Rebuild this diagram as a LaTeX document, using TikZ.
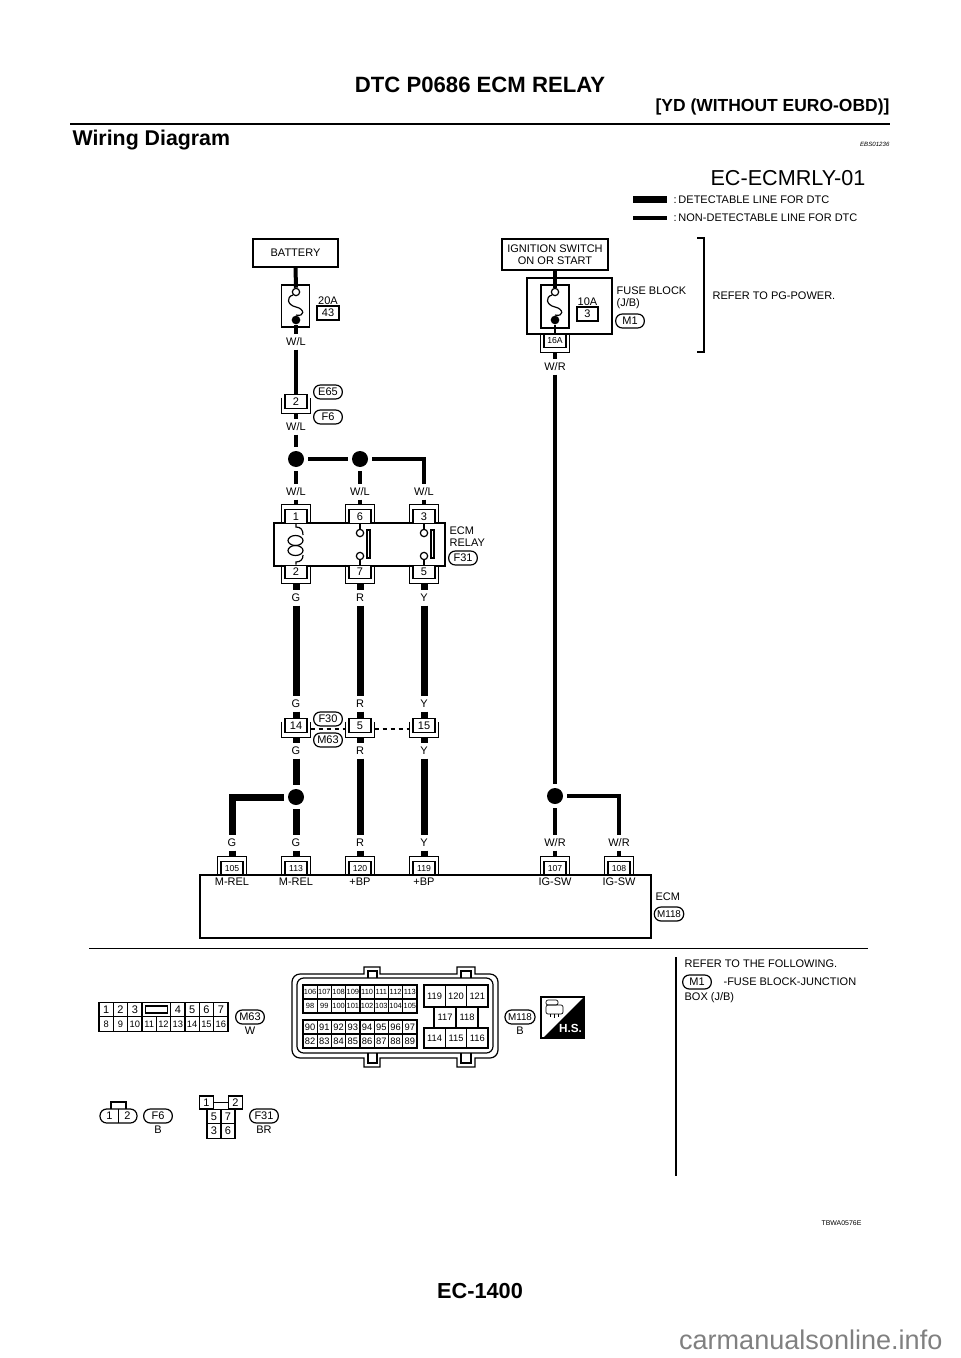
\documentclass[tikz,border=0pt]{standalone}
\usepackage{fontspec}
\setmainfont{Liberation Sans}
\usepackage{tikz}
\usetikzlibrary{positioning}

\newcommand{\fsz}[1]{\fontsize{#1}{9}\selectfont}

\tikzset{
    box/.style={draw, minimum width=#1},
    wirea/.style={line width=5.25pt},
    wireb/.style={line width=3pt},
    dot/.style={circle, fill=black, minimum size=12pt, outer sep=3pt},
    opn/.style={circle, draw, fill=white, minimum size=5.5pt},
    fil/.style={circle, fill=black, minimum size=6.5pt},
    lab/.style={minimum height=10.5pt},
    pill/.style={draw, rounded corners=5pt, minimum width=#1, minimum height=10.5pt},
    pill/.default=21.5pt,
    pin/.style={draw, fill=white, minimum width=16.5pt, minimum height=10pt},
    pina/.style={pin, append after command={\pgfextra{\draw ([xshift=-2.25pt]\tikzlastnode.south west) |- ([yshift=3.4pt]\tikzlastnode.north) -| ([xshift=2.25pt]\tikzlastnode.south east);}}},
    pinb/.style={pin, append after command={\pgfextra{\draw ([xshift=-2.25pt,yshift=-#1]\tikzlastnode.north west) |- ([yshift=-3.4pt]\tikzlastnode.south) -| ([xshift=2.25pt,yshift=-#1]\tikzlastnode.north east);}}},
    pinb/.default=2.5pt,
    tobrk/.style={shorten >=3.4pt},
    frombrk/.style={shorten <=3.4pt},
    cell/.style 2 args={draw, minimum width=#1, minimum height=#2},
    pics/fusesym/.style={code={
        \node[opn] (-t) at (0,0) {};
        \node[fil] (-b) at (0,28) {};
        \draw (-t.south west) .. controls (-10,5) and (-9,13) .. (0,15) .. controls (9,17) and (9,25) .. (-b.north);
    }},
}

\begin{document}
\begin{tikzpicture}[x=0.75pt, y=-0.75pt, line width=.9pt, every node/.style={inner sep=0pt, font=\fsz{8.25}}]

    \useasboundingbox (0,0) rectangle (960,1358);

    \node[font=\bfseries\fsz{16.6}] (title) at (480,85) {DTC P0686 ECM RELAY};
    \node[font=\bfseries\fsz{13.1}, anchor=east] (sect) at (890,107) {[YD (WITHOUT EURO-OBD)]};
    \coordinate (rl) at (70,124);
    \coordinate (rr) at (890,124);
    \draw[line width=2.2pt] (rl) -- (rr);
    \node[font=\bfseries\fsz{16}, anchor=west] (head) at (72,140.5) {Wiring Diagram};
    \node[font=\itshape\fsz{4.6}, anchor=east] (ref) at (890,144) {EBS01236};
    \node[font=\fsz{16.2}, anchor=east] (code) at (866,178) {EC-ECMRLY-01};

    \coordinate (la) at (633,200);
    \coordinate (lb) at (633,218);
    \node[anchor=west] (ta) at (673,200) {:\,DETECTABLE LINE FOR DTC};
    \node[anchor=west] (tb) at (673,218) {:\,NON-DETECTABLE LINE FOR DTC};
    \draw[wirea, shorten >=4.5pt] (la) -- (ta.west);
    \draw[wireb, shorten >=4.5pt] (lb) -- (tb.west);

    \node[box=63.75pt, minimum height=21pt] (bat) at (295.5,253) {BATTERY};
    \node[box=21.5pt, minimum height=31.5pt] (fa) at (295.5,306) {};
    \pic (fua) at (296,292) {fusesym};
    \node[draw, minimum width=16.5pt, minimum height=10.5pt] (n43) at (328,313) {43};
    \node[above=.5pt of n43] (a20) {20A};
    \node[lab] (wl1) at (296,342) {W/L};
    \node[pinb] (p2) at (296,401.5) {2};
    \node[pill] (e65) at (328,392) {E65};
    \node[pill] (f6) at (328,417) {F6};
    \node[lab] (wl2) at (296,427) {W/L};
    \node[dot] (d1) at (296,459) {};
    \node[dot] (d2) at (360,459) {};

    \draw[wireb] (bat.south) -- (fua-t.north);
    \draw[wireb] (fua-b.south) -- (wl1.north);
    \draw[wireb] (wl1.south) -- (p2.north);
    \draw[wireb, frombrk] (p2.south) -- (wl2.north);
    \draw[wireb] (wl2.south) -- (d1.north);
    \draw[wireb] (d1.east) -- (d2.west);

    \node[draw, minimum width=128.25pt, minimum height=32.25pt] (relay) at (359.5,544.5) {};
    \node[anchor=west, align=left] (rtxt) at (449,536.5) {ECM\\RELAY};
    \node[pill] (f31) at (463,558) {F31};

    \foreach \nm/\xx/\pa/\pb/\pc/\pd/\wc/\sg in {g/296/1/2/14/113/G/M-REL, r/360/6/7/5/120/R/+BP, y/424/3/5/15/119/Y/+BP} {
        \node[lab] (\nm a) at (\xx,492) {W/L};
        \node[pina] (\nm b) at (\xx,516.5) {\pa};
        \node[pinb=0pt] (\nm c) at (\xx,572) {\pb};
        \node[lab] (\nm d) at (\xx,598) {\wc};
        \node[lab] (\nm e) at (\xx,704) {\wc};
        \node[pinb] (\nm f) at (\xx,725.5) {\pc};
        \node[lab] (\nm g) at (\xx,751) {\wc};
        \node[lab] (\nm h) at (\xx,843) {\wc};
        \node[pina, font=\fsz{6.5}] (\nm i) at (\xx,868.5) {\pd};
        \node (\nm j) at (\xx,882) {\sg};
        \draw[wireb, tobrk] (\nm a.south) -- (\nm b.north);
        \draw[wirea, frombrk] (\nm c.south) -- (\nm d.north);
        \draw[wirea] (\nm d.south) -- (\nm e.north);
        \draw[wirea] (\nm e.south) -- (\nm f.north);
        \draw[wirea, frombrk] (\nm f.south) -- (\nm g.north);
        \draw[wirea, tobrk] (\nm h.south) -- (\nm i.north);
    }

    \foreach \xx/\nm in {360/r, 424/y} {
        \node[opn] (\nm k) at (\xx,533) {};
        \node[opn] (\nm l) at (\xx,556) {};
        \draw (\nm b.south) -- (\nm k.north);
        \draw (\nm l.south) -- (\nm c.north);
        \draw ({\xx+7},530) rectangle ({\xx+10},558);
    }

    \draw (gb.south) -- (296,527) .. controls (301,527) and (303,530) .. (303,535);
    \draw (gc.north) -- (296,562) .. controls (301,562) and (303,559) .. (303,555);
    \draw (295.5,540.5) ellipse [x radius=7.5, y radius=5];
    \draw (295.5,550.5) ellipse [x radius=7.5, y radius=5];

    \draw[wireb] (d2.east) -| (ya.north);
    \draw[wireb] (d1.south) -- (ga.north);
    \draw[wireb] (d2.south) -- (ra.north);

    \node[pill] (f30) at (328,719) {F30};
    \node[pill] (m63a) at (328,740) {M63};
    \draw[dash pattern=on 3.5pt off 2.5pt, line width=.8pt] ([xshift=2.25pt,yshift=-2.6pt]gf.east) -- ([xshift=-2.25pt,yshift=-2.6pt]rf.west);
    \draw[dash pattern=on 3.5pt off 2.5pt, line width=.8pt] ([xshift=2.25pt,yshift=-2.6pt]rf.east) -- ([xshift=-2.25pt,yshift=-2.6pt]yf.west);

    \node[dot] (d3) at (296,797) {};
    \draw[wirea] (gg.south) -- (d3.north);
    \draw[wirea] (d3.south) -- (gh.north);
    \draw[wirea] (rg.south) -- (rh.north);
    \draw[wirea] (yg.south) -- (yh.north);

    \node[lab] (gm) at (232,843) {G};
    \node[pina, font=\fsz{6.5}] (p105) at (232,868.5) {105};
    \node (mrel) at (232,882) {M-REL};
    \draw[wirea] (d3.west) -| (gm.north);
    \draw[wirea, tobrk] (gm.south) -- (p105.north);

    \node[box=79.5pt, minimum height=23.25pt, align=center] (ign) at (555,254.5) {IGNITION SWITCH\\ON OR START};
    \node[box=63.75pt, minimum height=42pt] (fb) at (569.5,306) {};
    \node[box=21pt, minimum height=32.25pt] (fc) at (555,306.5) {};
    \pic (fub) at (555,292) {fusesym};
    \node[draw, minimum width=15.75pt, minimum height=10.5pt] (n3) at (587.5,314) {3};
    \node[above=.5pt of n3] (a10) {10A};
    \node[anchor=west, align=left] (fbt) at (616,298) {FUSE BLOCK\\(J/B)};
    \node[pill] (m1) at (630,321) {M1};
    \node[pinb=0pt, font=\fsz{6.5}] (p16) at (555,341) {16A};
    \node[lab] (wr1) at (555,367) {W/R};
    \node[dot] (d4) at (555,796) {};
    \node[lab] (wr2) at (555,843) {W/R};
    \node[lab] (wr3) at (619,843) {W/R};
    \node[pina, font=\fsz{6.5}] (p107) at (555,868.5) {107};
    \node[pina, font=\fsz{6.5}] (p108) at (619,868.5) {108};
    \node (ig1) at (555,882) {IG-SW};
    \node (ig2) at (619,882) {IG-SW};

    \draw[wireb] (ign.south) -- (fub-t.north);
    \draw[line width=1.5pt] (fub-b.south) -- (p16.north);
    \draw[wireb, frombrk] (p16.south) -- (wr1.north);
    \draw[wireb] (wr1.south) -- (d4.north);
    \draw[wireb] (d4.south) -- (wr2.north);
    \draw[wireb] (d4.east) -| (wr3.north);
    \draw[wireb, tobrk] (wr2.south) -- (p107.north);
    \draw[wireb, tobrk] (wr3.south) -- (p108.north);

    \draw (697,238) -- (704,238) -- (704,352) -- (697,352);
    \node[anchor=west] (pgp) at (712,296) {REFER TO PG-POWER.};

    \draw (200,875) rectangle (651,938);
    \node[anchor=west] (ecmt) at (655,897) {ECM};
    \node[pill=22pt, font=\fsz{7.4}] (m118) at (669,914) {M118};

    \draw (89,948.5) -- (868,948.5);
    \draw[line width=1.2pt] (676,957) -- (676,1176);

    \foreach \nm [count=\i] in {1,2,3} {
        \node[cell={10.75pt}{10.9pt}] (m-\nm) at ({99+14.33*(\i-.5)},1009.5) {\nm};
    }
    \foreach \nm [count=\i from 6] in {4,5,6,7} {
        \node[cell={10.75pt}{10.9pt}] (m-\nm) at ({99+14.33*(\i-.5)},1009.5) {\nm};
    }
    \node[cell={21.5pt}{10.9pt}] (m-s) at (156.3,1009.5) {};
    \node[cell={16.5pt}{5.25pt}] (m-t) at (156.3,1009.5) {};
    \foreach \nm [count=\i] in {8,9,10,11,12,13,14,15,16} {
        \node[cell={10.75pt}{10.9pt}, font=\fsz{7}] (m-\nm) at ({99+14.33*(\i-.5)},1024) {\nm};
    }
    \node[pill] (m63b) at (250,1017) {M63};
    \node[below=1.5pt of m63b] (m63c) {W};

    \draw[rounded corners=6pt] (292,1016) -- (292,974) [sharp corners] -- (364,974) -- (364,967) -- (380,967) -- (380,974) -- (457,974) -- (457,967) -- (475,967) -- (475,974) [rounded corners=6pt] -- (498,974) -- (498,1058) [sharp corners] -- (475,1058) -- (475,1067) -- (457,1067) -- (457,1058) -- (380,1058) -- (380,1067) -- (364,1067) -- (364,1058) [rounded corners=6pt] -- (292,1058) -- cycle;
    \draw[rounded corners=5pt] (297,978) rectangle (493,1053);
    \draw (368,978) |- (377,971) -- (377,978);
    \draw (461,978) |- (471,971) -- (471,978);
    \draw (368,1053) |- (377,1063) -- (377,1053);
    \draw (461,1053) |- (471,1063) -- (471,1053);

    \foreach \nm [count=\i] in {106,107,...,113} {
        \node[cell={10.7pt}{10.5pt}, font=\fsz{5.6}] (e-\nm) at ({303+14.25*(\i-.5)},992) {\nm};
    }
    \foreach \nm [count=\i] in {98,99,...,105} {
        \node[cell={10.7pt}{10.5pt}, font=\fsz{5.6}] (e-\nm) at ({303+14.25*(\i-.5)},1006) {\nm};
    }
    \foreach \nm [count=\i] in {90,91,...,97} {
        \node[cell={10.7pt}{10.5pt}, font=\fsz{7}] (e-\nm) at ({303+14.25*(\i-.5)},1027) {\nm};
    }
    \foreach \nm [count=\i] in {82,83,...,89} {
        \node[cell={10.7pt}{10.5pt}, font=\fsz{7}] (e-\nm) at ({303+14.25*(\i-.5)},1041) {\nm};
    }
    \foreach \nm [count=\i] in {119,120,121} {
        \node[cell={16pt}{16.5pt}, font=\fsz{7}] (e-\nm) at ({424+21.33*(\i-.5)},996) {\nm};
    }
    \foreach \nm [count=\i] in {117,118} {
        \node[cell={16.5pt}{15.75pt}, font=\fsz{7}] (e-\nm) at ({434+22*(\i-.5)},1017.5) {\nm};
    }
    \foreach \nm [count=\i] in {114,115,116} {
        \node[cell={16pt}{15pt}, font=\fsz{7}] (e-\nm) at ({424+21.33*(\i-.5)},1038) {\nm};
    }
    \node[pill=22.5pt, font=\fsz{7.4}] (m118b) at (520,1017) {M118};
    \node[below=1.5pt of m118b] (m118c) {B};

    \draw (541,997) rectangle (584,1038);
    \fill (584,997) -- (584,1038) -- (543,1038) -- cycle;
    \node[text=white, font=\bfseries\fsz{8.8}] (hs) at (570.5,1028) {H.S.};
    \draw[line width=.5pt, rounded corners=1.5pt] (546,1000) rectangle (558,1005);
    \draw[line width=.5pt, rounded corners=1.5pt] (546,1005) rectangle (563,1014);
    \draw[line width=.5pt] (550,1014) -- (550,1017) (554,1014) -- (554,1018) (558,1014) -- (558,1017);

    \draw[rounded corners=5pt] (100,1109) rectangle (137,1123);
    \draw (111,1109) |- (126,1102) -- (126,1109);
    \draw (118.5,1109) -- (118.5,1123);
    \node (s1) at (109.5,1116) {1};
    \node (s2) at (127.5,1116) {2};
    \node[pill] (f6b) at (158,1116) {F6};
    \node[below=1.5pt of f6b] (f6c) {B};

    \node[cell={10.9pt}{9.75pt}] (r1) at (206.5,1102.5) {1};
    \node[cell={10.9pt}{9.75pt}] (r2) at (235.5,1102.5) {2};
    \node[cell={10.5pt}{11pt}] (r5) at (214,1116.5) {5};
    \node[cell={10.5pt}{11pt}] (r7) at (228,1116.5) {7};
    \node[cell={10.5pt}{11pt}] (r3) at (214,1131) {3};
    \node[cell={10.5pt}{11pt}] (r6) at (228,1131) {6};
    \draw (r1) -- (r2);
    \node[pill] (f31b) at (264,1116) {F31};
    \node[below=1.5pt of f31b] (f31c) {BR};

    \node[anchor=west] (nota) at (684,964) {REFER TO THE FOLLOWING.};
    \node[pill] (m1b) at (697,982) {M1};
    \node[anchor=west] (notb) at (723,982) {-FUSE BLOCK-JUNCTION};
    \node[anchor=west] (notc) at (684,998) {BOX (J/B)};

    \node[font=\fsz{5.2}, anchor=east] (tb0) at (862,1223) {TBWA0576E};
    \node[font=\bfseries\fsz{16.3}] (page) at (480,1291) {EC-1400};
    \node[font=\fsz{20.3}, text=black!50, anchor=east] (site) at (943,1340) {carmanualsonline.info};

\end{tikzpicture}
\end{document}
